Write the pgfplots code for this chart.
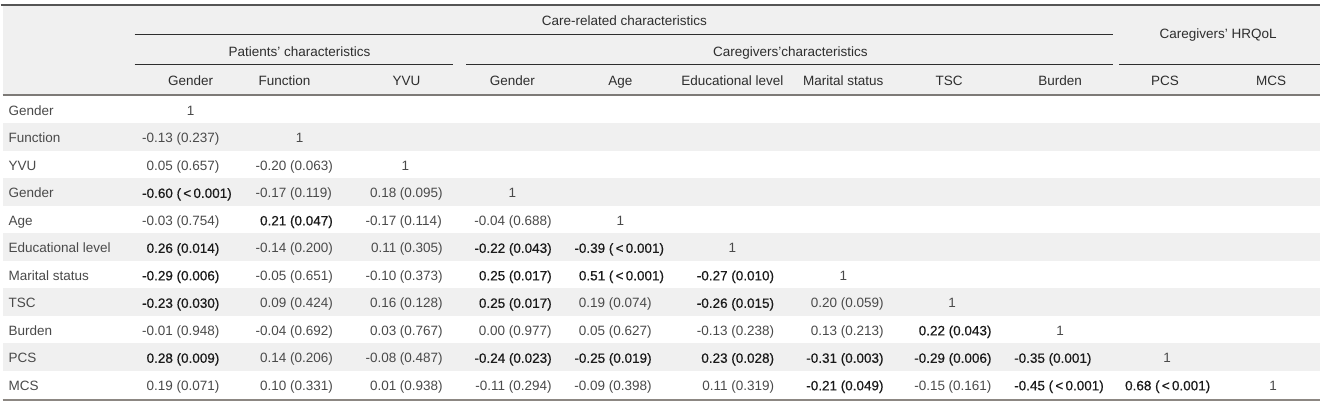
\documentclass[border=0pt]{standalone}
\usepackage{fontspec}
\setmainfont{Liberation Sans}
\newfontfamily\semib[FakeBold=0.5]{Liberation Sans}
\usepackage{pgfplots}
\pgfplotsset{compat=1.18}
\definecolor{band}{HTML}{F0F0F0}
\definecolor{txt}{HTML}{4A4A4A}
\definecolor{boldc}{HTML}{1A1A1A}
\definecolor{head}{HTML}{2E2E2E}
\definecolor{rulec}{HTML}{555555}
\definecolor{rulemid}{HTML}{7D7A77}
\definecolor{rulebot}{HTML}{8C8782}

\pgfplotstableread[col sep=comma]{
x,y,c,p
176,143,-0.13,(0.237)
176,170.5,0.05,(0.657)
289.5,170.5,-0.20,(0.063)
289.5,198,-0.17,(0.119)
399.5,198,0.18,(0.095)
176,225.5,-0.03,(0.754)
399.5,225.5,-0.17,(0.114)
508.5,225.5,-0.04,(0.688)
289.5,253,-0.14,(0.200)
399.5,253,0.11,(0.305)
289.5,280.5,-0.05,(0.651)
399.5,280.5,-0.10,(0.373)
289.5,308,0.09,(0.424)
399.5,308,0.16,(0.128)
608.5,308,0.19,(0.074)
840.5,308,0.20,(0.059)
176,335.5,-0.01,(0.948)
289.5,335.5,-0.04,(0.692)
399.5,335.5,0.03,(0.767)
508.5,335.5,0.00,(0.977)
608.5,335.5,0.05,(0.627)
731,335.5,-0.13,(0.238)
840.5,335.5,0.13,(0.213)
289.5,363,0.14,(0.206)
399.5,363,-0.08,(0.487)
176,390.5,0.19,(0.071)
289.5,390.5,0.10,(0.331)
399.5,390.5,0.01,(0.938)
508.5,390.5,-0.11,(0.294)
608.5,390.5,-0.09,(0.398)
731,390.5,0.11,(0.319)
948.5,390.5,-0.15,(0.161)
}\normaltab

\pgfplotstableread[col sep=comma]{
x,y,c,p
176,198,-0.60,(\,<\,0.001)
289.5,225.5,0.21,(0.047)
176,253,0.26,(0.014)
508.5,253,-0.22,(0.043)
608.5,253,-0.39,(\,<\,0.001)
176,280.5,-0.29,(0.006)
508.5,280.5,0.25,(0.017)
608.5,280.5,0.51,(\,<\,0.001)
731,280.5,-0.27,(0.010)
176,308,-0.23,(0.030)
508.5,308,0.25,(0.017)
731,308,-0.26,(0.015)
948.5,335.5,0.22,(0.043)
176,363,0.28,(0.009)
508.5,363,-0.24,(0.023)
608.5,363,-0.25,(0.019)
731,363,0.23,(0.028)
840.5,363,-0.31,(0.003)
948.5,363,-0.29,(0.006)
1048.5,363,-0.35,(0.001)
840.5,390.5,-0.21,(0.049)
1048.5,390.5,-0.45,(\,<\,0.001)
1155,390.5,0.68,(\,<\,0.001)
}\boldtab

\pgfplotstableread[col sep=comma]{
x,y,t
190,115.5,1
299,143,1
405,170.5,1
512,198,1
620,225.5,1
732,253,1
843,280.5,1
952,308,1
1060,335.5,1
1167,363,1
1273,390.5,1
}\onestab

\pgfplotstableread[col sep=comma]{
x,y,t
8,115.5,Gender
8,143,Function
8,170.5,YVU
8,198,Gender
8,225.5,Age
8,253,Educational level
8,280.5,Marital status
8,308,TSC
8,335.5,Burden
8,363,PCS
8,390.5,MCS
}\rowtab

\pgfplotstableread[col sep=comma]{
x,y,t
624,25.5,Care-related characteristics
1218,39,Caregivers’ HRQoL
299,56.5,Patients’ characteristics
790,56.5,Caregivers’characteristics
190,85.5,Gender
284,85.5,Function
406,85.5,YVU
512,85.5,Gender
620,85.5,Age
732,85.5,Educational level
843,85.5,Marital status
949,85.5,TSC
1060,85.5,Burden
1165,85.5,PCS
1271,85.5,MCS
}\headtab

\pgfplotsset{
  txtplot/.style={draw=none, mark=none, nodes near coords, point meta=explicit symbolic,
    every node near coord/.append style={inner sep=0pt, outer sep=0pt,
      font=\fontsize{13.5bp}{16bp}\selectfont, #1}},
}

\begin{document}
\begin{tikzpicture}
\begin{axis}[
  width=1329bp, height=406bp, scale only axis,
  xmin=0, xmax=1329, ymin=0, ymax=406, y dir=reverse,
  hide axis, clip=false,
]
% background
\addplot[fill=white, draw=none] coordinates {(0,0) (1329,0) (1329,406) (0,406)} -- cycle;
% header band
\addplot[fill=band, draw=none] coordinates {(2,5) (1320,5) (1320,95) (2,95)} -- cycle;
% row bands
\addplot[fill=band, draw=none] coordinates {(2,123.5) (1320,123.5) (1320,151) (2,151)} -- cycle;
\addplot[fill=band, draw=none] coordinates {(2,178.5) (1320,178.5) (1320,206) (2,206)} -- cycle;
\addplot[fill=band, draw=none] coordinates {(2,233.5) (1320,233.5) (1320,261) (2,261)} -- cycle;
\addplot[fill=band, draw=none] coordinates {(2,288.5) (1320,288.5) (1320,316) (2,316)} -- cycle;
\addplot[fill=band, draw=none] coordinates {(2,343.5) (1320,343.5) (1320,371) (2,371)} -- cycle;
% rules
\addplot[draw=rulec, line width=1.4bp] coordinates {(0,5) (1320,5)};
\addplot[draw=head, line width=1bp] coordinates {(134,35) (1113,35)};
\addplot[draw=head, line width=1bp] coordinates {(134,65) (453,65)};
\addplot[draw=head, line width=1bp] coordinates {(466,65) (1113,65)};
\addplot[draw=head, line width=1bp] coordinates {(1119,65) (1320,65)};
\addplot[draw=rulemid, line width=1.6bp] coordinates {(2,95) (1320,95)};
\addplot[draw=rulebot, line width=2.4bp] coordinates {(2,400) (1320,400)};
% headers
\addplot[txtplot={anchor=base, text=head}] table[x=x, y=y, meta=t] {\headtab};
% row labels
\addplot[txtplot={anchor=base west, text=txt}] table[x=x, y=y, meta=t] {\rowtab};
% diagonal ones
\addplot[txtplot={anchor=base, text=txt}] table[x=x, y=y, meta=t] {\onestab};
% normal entries
\addplot[txtplot={anchor=base east, xshift=-3.7bp, text=txt}] table[x=x, y=y, meta=c] {\normaltab};
\addplot[txtplot={anchor=base west, text=txt}] table[x=x, y=y, meta=p] {\normaltab};
% significant entries
\addplot[txtplot={anchor=base east, xshift=-3.7bp, text=boldc, font=\fontsize{13.5bp}{16bp}\semib}] table[x=x, y=y, meta=c] {\boldtab};
\addplot[txtplot={anchor=base west, text=boldc, font=\fontsize{13.5bp}{16bp}\semib}] table[x=x, y=y, meta=p] {\boldtab};
\end{axis}
\end{tikzpicture}
\end{document}
